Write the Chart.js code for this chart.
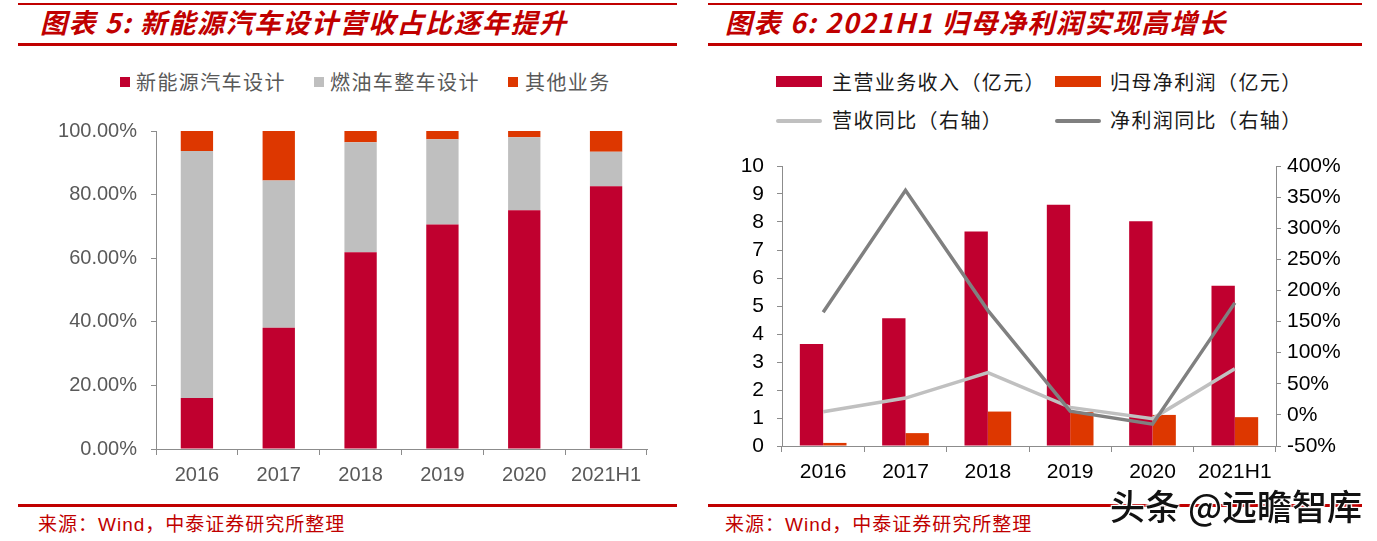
<!DOCTYPE html>
<html><head><meta charset="utf-8">
<script src="https://cdn.jsdelivr.net/npm/chart.js@4"></script>
<style>
html,body{margin:0;padding:0;background:#fff;}
body{width:1377px;height:541px;position:relative;overflow:hidden;font-family:'Noto Sans CJK SC',sans-serif;}
.abs{position:absolute;white-space:nowrap;}
.rule{position:absolute;background:#C00000;}
.title{position:absolute;white-space:nowrap;color:#C00000;font-weight:700;font-style:italic;font-size:27px;letter-spacing:1.5px;line-height:30px;}
.lg{position:absolute;white-space:nowrap;font-size:20px;line-height:24px;letter-spacing:1.4px;}
.src{position:absolute;white-space:nowrap;color:#C00000;font-family:'Liberation Sans','Noto Sans CJK SC',sans-serif;font-size:19px;line-height:22px;letter-spacing:1px;}
canvas{position:absolute;}
</style></head>
<body>
<!-- left panel -->
<div class="rule" style="left:18px;top:3px;width:659px;height:2px;"></div>
<div class="title" style="left:40px;top:7px;">图表 5: 新能源汽车设计营收占比逐年提升</div>
<div class="rule" style="left:18px;top:43px;width:659px;height:3px;"></div>

<div class="abs" style="left:120px;top:77px;width:10px;height:10px;background:#C0002F;"></div>
<div class="lg" style="left:136px;top:70px;color:#595959;">新能源汽车设计</div>
<div class="abs" style="left:314px;top:77px;width:10px;height:10px;background:#BFBFBF;"></div>
<div class="lg" style="left:330px;top:70px;color:#595959;">燃油车整车设计</div>
<div class="abs" style="left:508px;top:77px;width:10px;height:10px;background:#DD3700;"></div>
<div class="lg" style="left:525px;top:70px;color:#595959;">其他业务</div>

<canvas id="left" width="690" height="395" style="left:0px;top:105px;width:690px;height:395px;"></canvas>

<div class="rule" style="left:18px;top:504px;width:659px;height:3px;"></div>
<div class="src" style="left:38px;top:514px;">来源：Wind，中泰证券研究所整理</div>

<!-- right panel -->
<div class="rule" style="left:708px;top:3px;width:654px;height:2px;"></div>
<div class="title" style="left:725px;top:7px;">图表 6: 2021H1 归母净利润实现高增长</div>
<div class="rule" style="left:708px;top:43px;width:654px;height:3px;"></div>

<div class="abs" style="left:776px;top:76px;width:46px;height:11px;background:#C0002F;"></div>
<div class="lg" style="left:832px;top:70px;color:#1a1a1a;">主营业务收入（亿元）</div>
<div class="abs" style="left:1055px;top:76px;width:46px;height:11px;background:#DD3700;"></div>
<div class="lg" style="left:1110px;top:70px;color:#1a1a1a;">归母净利润（亿元）</div>
<div class="abs" style="left:776px;top:119px;width:46px;height:4px;background:#C0C0C0;border-radius:2px;"></div>
<div class="lg" style="left:832px;top:108px;color:#1a1a1a;">营收同比（右轴）</div>
<div class="abs" style="left:1055px;top:119px;width:46px;height:4px;background:#808080;border-radius:2px;"></div>
<div class="lg" style="left:1110px;top:108px;color:#1a1a1a;">净利润同比（右轴）</div>

<canvas id="right" width="677" height="360" style="left:700px;top:140px;width:677px;height:360px;"></canvas>

<div class="rule" style="left:708px;top:504px;width:654px;height:3px;"></div>
<div class="src" style="left:725px;top:514px;">来源：Wind，中泰证券研究所整理</div>

<div class="abs" style="left:1110px;top:485px;font-size:35px;line-height:40px;font-weight:500;color:#111;text-shadow:0 0 2px #fff,1px 1px 1px #fff,-1px -1px 1px #fff,1px -1px 1px #fff,-1px 1px 1px #fff;">头条 @远瞻智库</div>

<script>
// ---- data ----
const categories = ['2016', '2017', '2018', '2019', '2020', '2021H1'];

// Chart 5: revenue share (%)
const nevDesignShare   = [16.0, 38.1, 61.9, 70.6, 75.1, 82.6];
const fuelDesignShare  = [77.7, 46.3, 34.6, 26.8, 22.9, 10.9];
const otherShare       = [6.3, 15.6, 3.5, 2.6, 2.0, 6.5];
const shareTicks       = [0, 20, 40, 60, 80, 100];

// Chart 6
const revenue          = [3.64, 4.56, 7.66, 8.62, 8.03, 5.72];   // 亿元
const netProfit        = [0.11, 0.46, 1.23, 1.21, 1.11, 1.03];   // 亿元
const revenueYoY       = [5, 27, 68, 12, -6, 74];                // %
const netProfitYoY     = [165, 361, 168, 6, -15, 180];           // %

const RED = '#C0002F', GRAY = '#BFBFBF', ORANGE = '#DD3700';
const AXIS = '#8C8C8C';
const NUMFONT = "'Liberation Sans', Arial, sans-serif";

// ---- left chart ----
new Chart(document.getElementById('left'), {
  type: 'bar',
  data: {
    labels: categories,
    datasets: [
      { label: '新能源汽车设计', data: nevDesignShare, backgroundColor: RED },
      { label: '燃油车整车设计', data: fuelDesignShare, backgroundColor: GRAY },
      { label: '其他业务', data: otherShare, backgroundColor: ORANGE }
    ]
  },
  options: {
    responsive: false, animation: false, devicePixelRatio: 1,
    layout: { autoPadding: false, padding: { top: 0, right: 43, bottom: 0, left: 0 } },
    plugins: { legend: { display: false }, tooltip: { enabled: false } },
    datasets: { bar: { categoryPercentage: 0.395, barPercentage: 1 } },
    scales: {
      x: {
        stacked: true,
        grid: { drawOnChartArea: false, drawTicks: true, tickLength: 6, color: AXIS, offset: true },
        border: { display: true, color: AXIS, width: 1 },
        ticks: { color: '#595959', font: { family: NUMFONT, size: 20 }, padding: 8, maxRotation: 0 },
        afterFit(s) { s.height = 51; }
      },
      y: {
        stacked: true, min: 0, max: 100,
        afterBuildTicks(s) { s.ticks = shareTicks.map(v => ({ value: v })); },
        grid: { drawOnChartArea: false, drawTicks: true, tickLength: 5, color: AXIS },
        border: { display: true, color: AXIS, width: 1 },
        ticks: { color: '#595959', font: { family: NUMFONT, size: 20 }, padding: 14, autoSkip: false,
                 callback: v => Number(v).toFixed(2) + '%' },
        afterFit(s) { s.width = 156; }
      }
    }
  }
});

// ---- right chart ----
new Chart(document.getElementById('right'), {
  type: 'bar',
  data: {
    labels: categories,
    datasets: [
      { type: 'line', label: '净利润同比（右轴）', data: netProfitYoY, yAxisID: 'y1',
        borderColor: '#808080', borderWidth: 3.5, pointRadius: 0, tension: 0, order: 0, fill: false },
      { type: 'line', label: '营收同比（右轴）', data: revenueYoY, yAxisID: 'y1',
        borderColor: '#C0C0C0', borderWidth: 3.5, pointRadius: 0, tension: 0, order: 1, fill: false },
      { label: '主营业务收入（亿元）', data: revenue, backgroundColor: RED, yAxisID: 'y', order: 2 },
      { label: '归母净利润（亿元）', data: netProfit, backgroundColor: ORANGE, yAxisID: 'y', order: 2 }
    ]
  },
  options: {
    responsive: false, animation: false, devicePixelRatio: 1,
    layout: { autoPadding: false, padding: { top: 26, right: 0, bottom: 0, left: 0 } },
    plugins: { legend: { display: false }, tooltip: { enabled: false } },
    datasets: { bar: { categoryPercentage: 0.567, barPercentage: 1 } },
    scales: {
      x: {
        grid: { drawOnChartArea: false, drawTicks: true, tickLength: 6, color: AXIS, offset: true },
        border: { display: true, color: AXIS, width: 1 },
        ticks: { color: '#000', font: { family: NUMFONT, size: 21 }, padding: 8, maxRotation: 0 },
        afterFit(s) { s.height = 54; }
      },
      y: {
        position: 'left', min: 0, max: 10,
        ticks: { stepSize: 1, autoSkip: false, color: '#000', font: { family: NUMFONT, size: 21 }, padding: 13 },
        grid: { drawOnChartArea: false, drawTicks: true, tickLength: 5, color: AXIS },
        border: { display: true, color: AXIS, width: 1 },
        afterFit(s) { s.width = 82; }
      },
      y1: {
        position: 'right', min: -50, max: 400,
        ticks: { stepSize: 50, autoSkip: false, color: '#000', font: { family: NUMFONT, size: 21 }, padding: 6,
                 callback: v => v + '%' },
        grid: { drawOnChartArea: false, drawTicks: true, tickLength: 5, color: AXIS },
        border: { display: true, color: AXIS, width: 1 },
        afterFit(s) { s.width = 101; }
      }
    }
  }
});
</script>
</body></html>
